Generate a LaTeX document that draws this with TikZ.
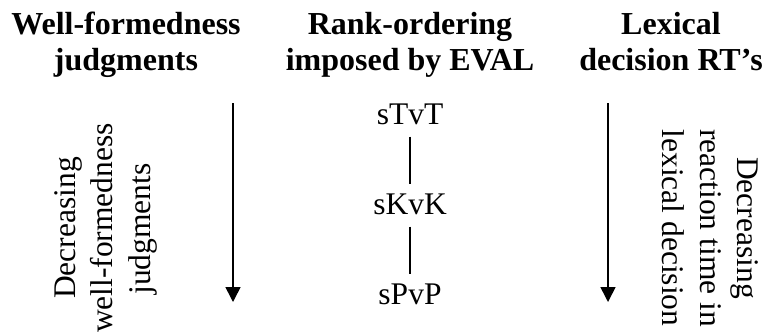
\documentclass[tikz,border=0pt]{standalone}
\usepackage{fontspec}
\setmainfont{Liberation Serif}
\usetikzlibrary{arrows.meta}

\begin{document}
\begin{tikzpicture}[x=1pt,y=-1pt,
  header/.style={font=\fontsize{32}{36}\selectfont\bfseries, align=center, anchor=base, inner sep=0pt},
  cand/.style={font=\fontsize{31.5}{37.5}\selectfont, anchor=base, inner sep=0pt},
  sidetext/.style={font=\fontsize{31.5}{37.5}\selectfont, anchor=base, inner sep=0pt},
  rankline/.style={line width=1.6pt, shorten <=12pt, shorten >=9pt},
  scalearrow/.style={line width=1.6pt, -{Triangle[width=15pt,length=15pt]}}
]
\useasboundingbox (0,0) rectangle (767,335);

% column headings (base anchor sits on the second line)
\node[header] (hwf)  at (126,70) {Well-formedness\\judgments};
\node[header] (hrk)  at (410,70) {Rank-ordering\\imposed by EVAL};
\node[header] (hlex) at (671,70) {Lexical\\decision RT's};

% candidates ranked by EVAL
\node[cand] (t) at (410,124) {sTvT};
\node[cand] (k) at (410,214) {sKvK};
\node[cand] (p) at (410,304) {sPvP};
\draw[rankline] (t.south) -- (k.north);
\draw[rankline] (k.south) -- (p.north);

% left scale: well-formedness
\coordinate (wftop) at (233,103);
\coordinate (wfbot) at (233,302);
\draw[scalearrow] (wftop) -- (wfbot);
\node[sidetext, rotate=90] (wf1) at (75,228)  {Decreasing};
\node[sidetext, rotate=90] (wf2) at (112,228) {well-formedness};
\node[sidetext, rotate=90] (wf3) at (150,229) {judgments};

% right scale: reaction times
\coordinate (rttop) at (608,103);
\coordinate (rtbot) at (608,302);
\draw[scalearrow] (rttop) -- (rtbot);
\node[sidetext, rotate=-90] (rt1) at (737,228) {Decreasing};
\node[sidetext, rotate=-90] (rt2) at (700,228) {reaction time in};
\node[sidetext, rotate=-90] (rt3) at (662,228) {lexical decision};
\end{tikzpicture}
\end{document}
